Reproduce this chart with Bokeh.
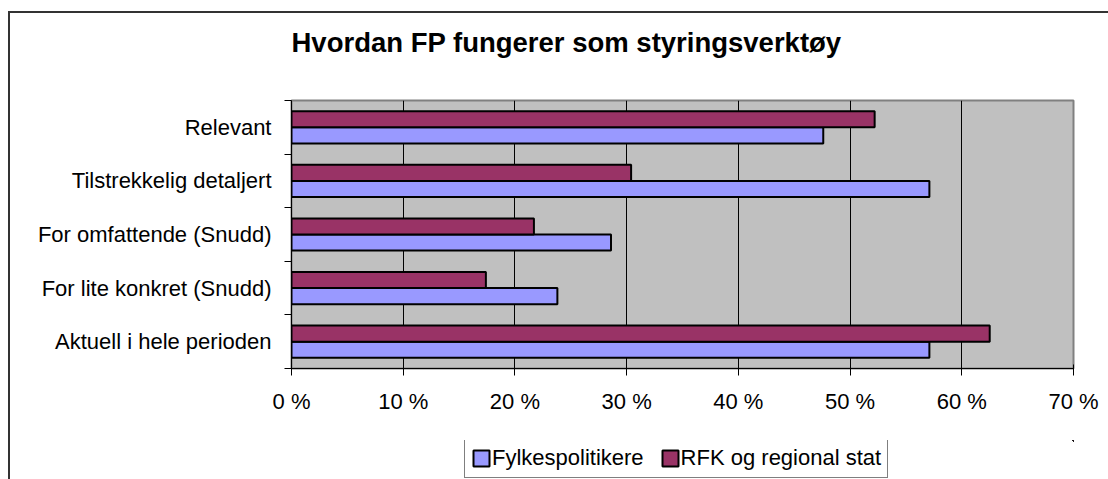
from bokeh.plotting import figure
from bokeh.models import Range1d, FixedTicker, ColumnDataSource, Legend, LegendItem, Title
from bokeh.layouts import column
from bokeh.embed import file_html
from bokeh.resources import INLINE

# ---- data ----
categories = ["Relevant", "Tilstrekkelig detaljert", "For omfattende (Snudd)",
              "For lite konkret (Snudd)", "Aktuell i hele perioden"]
fylkespolitikere = [47.6, 57.1, 28.6, 23.8, 57.1]
rfk_regional_stat = [52.2, 30.4, 21.7, 17.4, 62.5]
series_names = ["Fylkespolitikere", "RFK og regional stat"]
x_ticks = [0, 10, 20, 30, 40, 50, 60, 70]
x_tick_labels = ["0 %", "10 %", "20 %", "30 %", "40 %", "50 %", "60 %", "70 %"]
title_text = "Hvordan FP fungerer som styringsverktøy"

FONT = "Liberation Sans"
BLUE = "#9999FF"
RED = "#993366"
LABEL_SIZE = "22px"

n = len(categories)
centers = [n - 1 - i + 0.5 for i in range(n)]
bar_h = 0.3

src_blue = ColumnDataSource(dict(y=[c - bar_h / 2 for c in centers], x=fylkespolitikere))
src_red = ColumnDataSource(dict(y=[c + bar_h / 2 for c in centers], x=rfk_regional_stat))

W = 1098
p = figure(width=W, height=427, output_backend="svg", toolbar_location=None, title=None,
           x_range=Range1d(x_ticks[0], x_ticks[-1]), y_range=Range1d(0, n),
           min_border_left=281, min_border_right=35, min_border_top=87, min_border_bottom=72)

p.background_fill_color = "#C0C0C0"
p.border_fill_color = "white"
p.outline_line_color = "#808080"
p.outline_line_width = 2

# title (spacer keeps it away from the plot area)
spacer = Title(text=" ", text_font_size="1px", standoff=40)
p.add_layout(spacer, "above")
main_title = Title(text=title_text, align="left", offset=0, standoff=0,
                   text_font=FONT, text_font_size="27.5px", text_font_style="bold",
                   text_color="black")
p.add_layout(main_title, "above")

bar_kw = dict(y="y", right="x", left=0, height=bar_h, line_color="black", line_width=2)
r_blue = p.hbar(source=src_blue, fill_color=BLUE, **bar_kw)
r_red = p.hbar(source=src_red, fill_color=RED, **bar_kw)

# x axis
xa = p.xaxis[0]
xa.ticker = FixedTicker(ticks=x_ticks)
xa.major_label_overrides = {t: l for t, l in zip(x_ticks, x_tick_labels)}
xa.major_label_text_font = FONT
xa.major_label_text_font_size = LABEL_SIZE
xa.major_label_text_color = "black"
xa.major_tick_out = 7
xa.major_tick_in = 4
xa.major_tick_line_color = "black"
xa.minor_tick_line_color = None
xa.axis_line_color = "black"
xa.major_label_standoff = 13

# y axis: labels at category centres, ticks at category boundaries
ya = p.yaxis[0]
ya.ticker = FixedTicker(ticks=centers, minor_ticks=list(range(n + 1)))
ya.major_label_overrides = {c: cat for c, cat in zip(centers, categories)}
ya.major_label_text_font = FONT
ya.major_label_text_font_size = LABEL_SIZE
ya.major_label_text_color = "black"
ya.major_tick_out = 0
ya.major_tick_in = 0
ya.minor_tick_out = 7
ya.minor_tick_in = 0
ya.minor_tick_line_color = "black"
ya.axis_line_color = "black"
ya.major_label_standoff = 13

p.xgrid.ticker = FixedTicker(ticks=x_ticks[1:-1])
p.xgrid.grid_line_color = "black"
p.xgrid.grid_line_width = 1
p.ygrid.grid_line_color = None

# legend strip below the chart (bars here fall outside its ranges)
lg = figure(width=W, height=39, output_backend="svg", toolbar_location=None, title=None,
            x_range=Range1d(-2, -1), y_range=Range1d(-2, -1),
            x_axis_location=None, y_axis_location=None, min_border=0)
lg.outline_line_color = None
lg.background_fill_color = "white"
lg.border_fill_color = "white"
lg.xgrid.grid_line_color = None
lg.ygrid.grid_line_color = None
lb = lg.hbar(source=src_blue, fill_color=BLUE, **bar_kw)
lr = lg.hbar(source=src_red, fill_color=RED, **bar_kw)

legend = Legend(items=[LegendItem(label=series_names[0], renderers=[lb]),
                       LegendItem(label=series_names[1], renderers=[lr])],
                orientation="horizontal", location=(173, 1))
legend.label_text_font = FONT
legend.label_text_font_size = LABEL_SIZE
legend.label_text_color = "black"
legend.glyph_width = 20
legend.glyph_height = 20
legend.label_standoff = 1
legend.spacing = 16
legend.padding = 6
legend.margin = 0
legend.border_line_color = "black"
legend.border_line_width = 1
legend.background_fill_color = "white"
legend.background_fill_alpha = 1
lg.add_layout(legend, "center")

layout = column(p, lg, spacing=0)
layout.styles = {"margin-left": "8px", "margin-top": "11px",
                 "border-left": "2px solid #333333", "border-top": "2px solid #333333",
                 "margin-bottom": "-20px"}

open("out.html", "w").write(file_html(layout, INLINE))
